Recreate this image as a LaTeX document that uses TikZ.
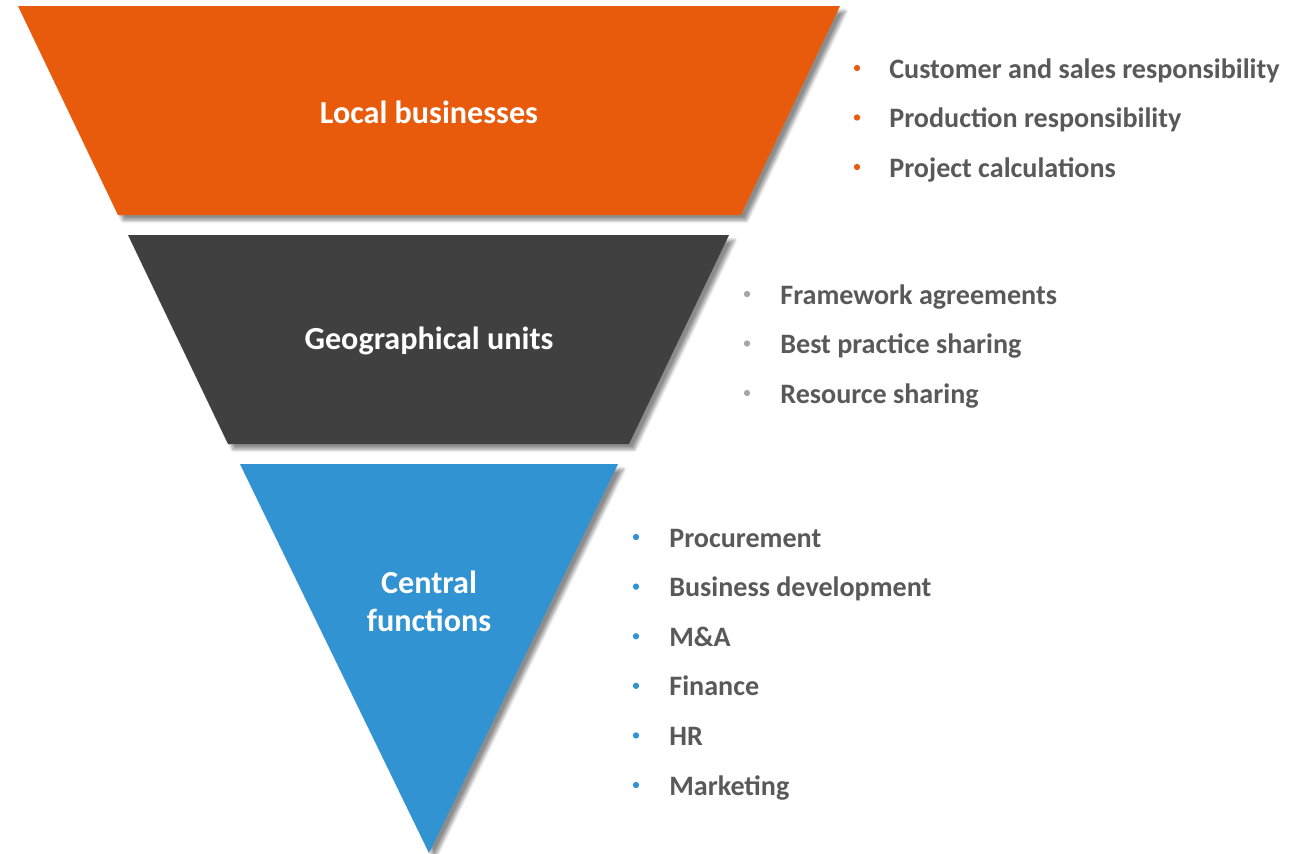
\documentclass[tikz,border=0pt]{standalone}
\usepackage{fontspec}
\setmainfont{Carlito}
\usepackage{tikz}
\usetikzlibrary{shadows.blur}

\definecolor{tierorange}{HTML}{E95B0C}
\definecolor{tiergray}{HTML}{404040}
\definecolor{tierblue}{HTML}{3193D1}
\definecolor{dotgray}{HTML}{A6A6A6}
\definecolor{itemtext}{HTML}{595959}

\tikzset{
  tier/.style={blur shadow={shadow xshift=3pt, shadow yshift=-3pt, shadow blur steps=6, shadow opacity=45}},
  tierlabel/.style={text=white, font=\bfseries\fontsize{18.3}{21.5}\selectfont, align=center},
  item/.style={anchor=base west, text=itemtext, font=\bfseries\fontsize{16}{19}\selectfont, inner sep=0pt},
  dot/.style={circle, inner sep=0pt, minimum size=3.6pt},
}

\begin{document}
\begin{tikzpicture}[x=0.02cm, y=-0.02cm]
    \useasboundingbox (0,0) rectangle (1304,853);

    % Local businesses - top band
    \fill[tierorange, tier] (18,6) -- (840,6) -- (741,215) -- (118,215) -- cycle;
    \node[tierlabel] (local) at (429,112) {Local businesses};

    % Geographical units - middle band
    \fill[tiergray, tier] (128,235) -- (729,235) -- (629,444) -- (228,444) -- cycle;
    \node[tierlabel] (geo) at (429,341) {Geographical units};

    % Central functions - bottom triangle
    \fill[tierblue, tier] (240,464) -- (618,464) -- (429,853) -- cycle;
    \node[tierlabel] (central) at (429,601) {Central\\functions};

    % Local businesses - responsibilities
    \foreach \txt [count=\i] in {Customer and sales responsibility, Production responsibility, Project calculations} {
        \node[dot, fill=tierorange] (localdot\i) at (857,{68+49.5*(\i-1)}) {};
        \node[item] (localitem\i) at (889,{78+49.5*(\i-1)}) {\txt};
    }

    % Geographical units - responsibilities
    \foreach \txt [count=\i] in {Framework agreements, Best practice sharing, Resource sharing} {
        \node[dot, fill=dotgray] (geodot\i) at (747,{294+49.5*(\i-1)}) {};
        \node[item] (geoitem\i) at (780,{304+49.5*(\i-1)}) {\txt};
    }

    % Central functions - responsibilities
    \foreach \txt [count=\i] in {Procurement, Business development, M\&A, Finance, HR, Marketing} {
        \node[dot, fill=tierblue] (centraldot\i) at (636,{537+49.6*(\i-1)}) {};
        \node[item] (centralitem\i) at (669,{547+49.6*(\i-1)}) {\txt};
    }
\end{tikzpicture}
\end{document}
